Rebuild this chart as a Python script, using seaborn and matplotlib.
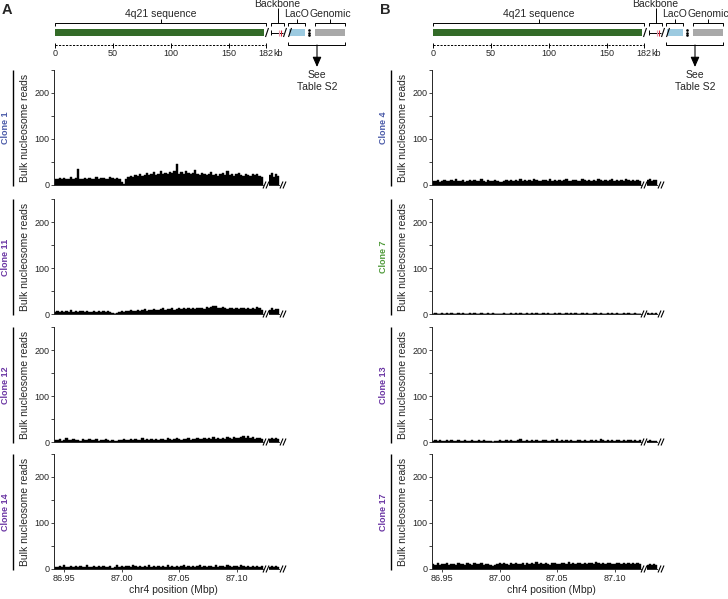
import numpy as np
import pandas as pd
import matplotlib
matplotlib.use('Agg')
import matplotlib.pyplot as plt
import seaborn as sns

# chr4 window covered by the 182 kb 4q21 insert (Mbp)
x_start, x_end = 86.941, 87.123
x_ticks = [86.95, 87.00, 87.05, 87.10]
scale_kb = [0, 50, 100, 150, 182]

# bulk nucleosome reads, 2 kb bins along the insert, then the short backbone piece
c1 = [14, 12, 15, 13, 16, 12, 14, 18, 13, 15, 34, 14, 12, 16, 13, 15, 12, 14, 17, 13, 15, 16, 12, 14, 18, 15, 13,
      16, 14, 6, 2, 14, 18, 20, 17, 21, 19, 23, 20, 22, 26, 21, 24, 28, 22, 25, 30, 23, 27, 24, 29, 26, 31, 45, 25,
      28, 24, 30, 26, 23, 27, 33, 25, 22, 26, 24, 21, 25, 28, 22, 24, 20, 23, 26, 21, 30, 22, 24, 20, 23, 27, 21, 19,
      24, 22, 20, 25, 21, 23, 19, 18]
c11 = [5, 6, 4, 7, 5, 6, 5, 8, 5, 6, 4, 7, 6, 5, 7, 5, 4, 6, 5, 7, 4, 6, 5, 7, 5, 2, 1, 2, 5, 6, 5, 7, 6, 8, 7, 6, 9, 7,
       8, 10, 7, 9, 8, 11, 9, 8, 10, 12, 9, 11, 10, 13, 9, 11, 12, 10, 14, 11, 13, 10, 12, 11, 14, 12, 13, 11, 15, 13,
       16, 18, 17, 14, 12, 15, 13, 11, 14, 12, 10, 13, 11, 12, 14, 10, 12, 11, 13, 10, 16, 12, 9]
c12 = [5, 4, 6, 3, 5, 9, 4, 5, 6, 4, 5, 3, 6, 5, 4, 7, 5, 4, 6, 3, 5, 4, 6, 5, 3, 4, 2, 3, 5, 4, 6, 5, 4, 7, 5, 6, 4, 5,
       8, 5, 6, 4, 7, 5, 6, 5, 7, 6, 5, 8, 6, 5, 7, 9, 6, 5, 7, 6, 8, 5, 7, 6, 8, 7, 6, 9, 7, 8, 6, 10, 7, 8, 6, 9, 7,
       10, 8, 7, 11, 8, 9, 10, 14, 9, 12, 8, 10, 7, 9, 8, 7]
c14 = [5, 4, 6, 5, 8, 4, 5, 6, 4, 7, 5, 6, 4, 5, 8, 5, 4, 6, 5, 7, 4, 6, 5, 4, 6, 3, 5, 8, 4, 6, 5, 7, 6, 5, 8, 6, 5, 7,
       4, 6, 5, 8, 5, 6, 4, 7, 5, 6, 5, 8, 4, 6, 5, 7, 5, 6, 9, 5, 6, 4, 7, 5, 6, 8, 5, 6, 4, 7, 6, 5, 8, 5, 6, 7, 5, 9,
       6, 5, 7, 6, 5, 8, 6, 5, 7, 4, 6, 5, 7, 5, 6]
c4 = [9, 8, 10, 7, 9, 11, 8, 9, 10, 8, 12, 9, 8, 10, 7, 9, 11, 8, 10, 9, 8, 13, 9, 7, 10, 8, 9, 11, 8, 6, 7, 9, 10, 8,
      11, 9, 10, 8, 12, 9, 10, 8, 11, 9, 14, 10, 8, 9, 11, 10, 8, 12, 9, 10, 8, 11, 9, 10, 13, 9, 8, 10, 11, 9, 8, 12,
      10, 9, 11, 8, 10, 9, 12, 10, 8, 11, 9, 10, 13, 9, 11, 8, 10, 9, 12, 10, 9, 11, 8, 10, 9]
c7 = [1, 2, 1, 1, 2, 1, 3, 1, 2, 1, 1, 2, 1, 2, 1, 1, 3, 1, 2, 1, 1, 2, 1, 1, 2, 1, 2, 1, 1, 0, 1, 2, 1, 1, 2, 1, 3, 1,
      2, 1, 1, 2, 1, 2, 1, 3, 1, 1, 2, 1, 2, 1, 1, 3, 1, 2, 1, 1, 2, 1, 2, 1, 3, 1, 1, 2, 1, 2, 1, 1, 2, 3, 1, 2, 1, 1,
      2, 1, 2, 1, 3, 1, 1, 2, 1, 2, 1, 1, 2, 1, 1]
c13 = [3, 4, 2, 5, 3, 2, 4, 3, 5, 2, 3, 4, 2, 3, 5, 3, 2, 4, 3, 2, 5, 3, 4, 2, 3, 2, 1, 2, 3, 4, 3, 2, 5, 3, 4, 2, 3, 4,
       6, 3, 2, 4, 3, 5, 3, 4, 2, 3, 5, 4, 3, 2, 4, 3, 6, 3, 4, 2, 5, 3, 4, 3, 2, 5, 4, 3, 4, 2, 3, 5, 3, 4, 3, 6, 4, 3,
       5, 3, 4, 2, 4, 5, 3, 4, 3, 5, 4, 3, 4, 3, 4]
c17 = [10, 9, 12, 8, 11, 10, 13, 9, 11, 10, 8, 12, 10, 11, 9, 14, 10, 9, 12, 11, 10, 13, 9, 11, 10, 8, 7, 9, 11, 12,
       10, 13, 11, 9, 12, 10, 14, 11, 10, 12, 9, 13, 11, 12, 10, 15, 11, 12, 10, 13, 11, 9, 12, 14, 10, 11, 13, 12, 10,
       16, 11, 12, 10, 13, 12, 11, 14, 10, 12, 13, 11, 15, 12, 10, 13, 11, 12, 14, 11, 10, 13, 12, 11, 14, 10, 12, 11,
       13, 10, 12, 11]

seg = {'1': [22, 26, 18, 24, 20], '11': [9, 12, 8, 11, 10], '12': [7, 9, 6, 8, 7], '14': [5, 7, 4, 6, 5],
       '4': [10, 12, 9, 11, 10], '7': [2, 1, 2, 1, 2], '13': [3, 4, 2, 3, 3], '17': [9, 11, 8, 10, 9]}

clones_a = ['1', '11', '12', '14']
clones_b = ['4', '7', '13', '17']
tracks = {'1': c1, '11': c11, '12': c12, '14': c14, '4': c4, '7': c7, '13': c13, '17': c17}
clone_col = {'1': '#4a5aa8', '4': '#4a5aa8', '7': '#4f9a3a'}
purple = '#6a35a3'

W, H = 728, 599
sns.set_theme(style='ticks')
plt.rcParams['font.family'] = ['Liberation Sans', 'DejaVu Sans']
plt.rcParams['axes.linewidth'] = 0.7

fig = plt.figure(figsize=(W / 100, H / 100), dpi=100)
over = fig.add_axes([0, 0, 1, 1])
over.set_xlim(0, W)
over.set_ylim(H, 0)
over.axis('off')


def pax(left, top, w, h):
    a = fig.add_axes([left / W, 1 - (top + h) / H, w / W, h / H])
    a.set_facecolor('none')
    return a


def line(xs, ys, **kw):
    kw.setdefault('color', 'black')
    kw.setdefault('lw', 0.7)
    over.plot(xs, ys, solid_capstyle='butt', **kw)


def bracket(x1, x2, y, top, down=3):
    line([x1, x1, x2, x2], [y + down, y, y, y + down])
    line([(x1 + x2) / 2] * 2, [y, top])


def slash(x, yc, h=4.5):
    line([x - 1.5, x + 1.5], [yc + h, yc - h], lw=0.8)


def draw_track(ax, vals, lo, hi):
    n = len(vals)
    bw = (hi - lo) / n
    df = pd.DataFrame({'pos': lo + bw * (np.arange(n) + 0.5), 'reads': vals})
    sns.histplot(data=df, x='pos', weights='reads', binwidth=bw, binrange=(lo, hi),
                 element='step', fill=True, color='black', alpha=1, linewidth=0.3, ax=ax)
    ax.set_xlim(lo, hi)
    ax.set_ylim(0, 250)


fs_lab, fs_tick = 7.5, 6.5
zero_y = [185, 314, 442, 569]
for col, (dx, clones, letter) in enumerate([(0, clones_a, 'A'), (378, clones_b, 'B')]):
    over.text(2 + dx, 10, letter, fontsize=10.5, fontweight='bold', va='center', ha='left')

    # insert diagram
    def X(kb):
        return 55 + dx + kb * 211 / 182

    bracket(X(0), X(182), 23, 19)
    over.text((X(0) + X(182)) / 2, 14, '4q21 sequence', fontsize=fs_lab, ha='center', va='center')
    bracket(271 + dx, 284 + dx, 23, 8)
    over.text(277.5 + dx, 4, 'Backbone', fontsize=fs_lab, ha='center', va='center')
    bracket(288 + dx, 305 + dx, 23, 19)
    over.text(297 + dx, 14, 'LacO', fontsize=fs_lab, ha='center', va='center')
    bracket(315 + dx, 345 + dx, 23, 19)
    over.text(330 + dx, 14, 'Genomic', fontsize=fs_lab, ha='center', va='center')

    over.add_patch(plt.Rectangle((X(0), 29), X(182) - X(0) - 2, 7, color='#336b28', lw=0))
    slash(X(182) + 1, 32.5)
    line([271 + dx, 283 + dx], [32.5, 32.5])
    line([271 + dx, 271 + dx], [30, 35])
    line([279 + dx, 279 + dx], [29.5, 35.5], color='#e89aae', lw=0.8)
    line([281 + dx, 281 + dx], [29.5, 35.5], color='#d0283a', lw=0.8)
    slash(285 + dx, 32.5)
    over.add_patch(plt.Rectangle((289 + dx, 29), 16, 7, color='#9ccae0', lw=0))
    slash(290 + dx, 32.5)
    over.plot([309 + dx] * 3, [30, 32.5, 35], ls='none', marker='o', ms=0.9, color='black')
    over.add_patch(plt.Rectangle((315 + dx, 29), 30, 7, color='#a9a9a9', lw=0))

    line([X(0), X(182)], [45, 45], ls=(0, (2.2, 1.4)))
    for kb in scale_kb:
        line([X(kb)] * 2, [42.5, 47.5])
        over.text(X(kb), 53.5, str(kb), fontsize=fs_tick, ha='center', va='center')
    over.text(X(182) + 7.5, 53.5, 'kb', fontsize=fs_tick, ha='left', va='center')

    line([288 + dx, 288 + dx, 345 + dx, 345 + dx], [42, 45, 45, 42])
    over.annotate('', xy=(317 + dx, 67), xytext=(317 + dx, 45),
                  arrowprops=dict(arrowstyle='-|>,head_length=0.5,head_width=0.22', color='black', lw=0.8,
                                  shrinkA=0, shrinkB=0))
    over.text(317 + dx, 74.5, 'See', fontsize=fs_lab, ha='center', va='center')
    over.text(317 + dx, 87, 'Table S2', fontsize=fs_lab, ha='center', va='center')

    for i, cl in enumerate(clones):
        y0 = zero_y[i]
        ax = pax(54 + dx, y0 - 115, 209, 115)
        draw_track(ax, tracks[cl], x_start, x_end)
        sns.despine(ax=ax)
        ax.set_yticks([0, 100, 200])
        ax.set_yticks([50, 150, 250], minor=True)
        ax.tick_params(axis='y', which='both', length=2.5, width=0.6, labelsize=fs_tick, pad=1)
        ax.set_ylabel('')
        ax.set_xlabel('')
        if i == 3:
            ax.set_xticks(x_ticks)
            ax.set_xticklabels([f'{t:.2f}' for t in x_ticks])
            ax.tick_params(axis='x', length=2, width=0.6, labelsize=fs_tick, pad=1.5)
        else:
            ax.set_xticks([])

        sx = pax(269 + dx, y0 - 115, 10, 115)
        vals = seg[cl]
        draw_track(sx, vals, 0, len(vals))
        sns.despine(ax=sx, left=True)
        sx.set_xticks([])
        sx.set_yticks([])
        sx.set_ylabel('')
        sx.set_xlabel('')

        slash(264.5 + dx, y0, 3.5)
        slash(267.5 + dx, y0, 3.5)
        slash(281.5 + dx, y0, 3.5)
        slash(284.5 + dx, y0, 3.5)

        line([13 + dx, 13 + dx], [y0 - 115, y0 + 1], lw=1)
        over.text(6 + dx, y0 - 57, 'Clone ' + cl, rotation=90, fontsize=6.5, fontweight='bold',
                  color=clone_col.get(cl, purple), ha='center', va='center')
        over.text(25 + dx, y0 - 57, 'Bulk nucleosome reads', rotation=90, fontsize=fs_lab,
                  ha='center', va='center')

    over.text(173 + dx, 590, 'chr4 position (Mbp)', fontsize=fs_lab, ha='center', va='center')

fig.savefig('out.png', dpi=100)
